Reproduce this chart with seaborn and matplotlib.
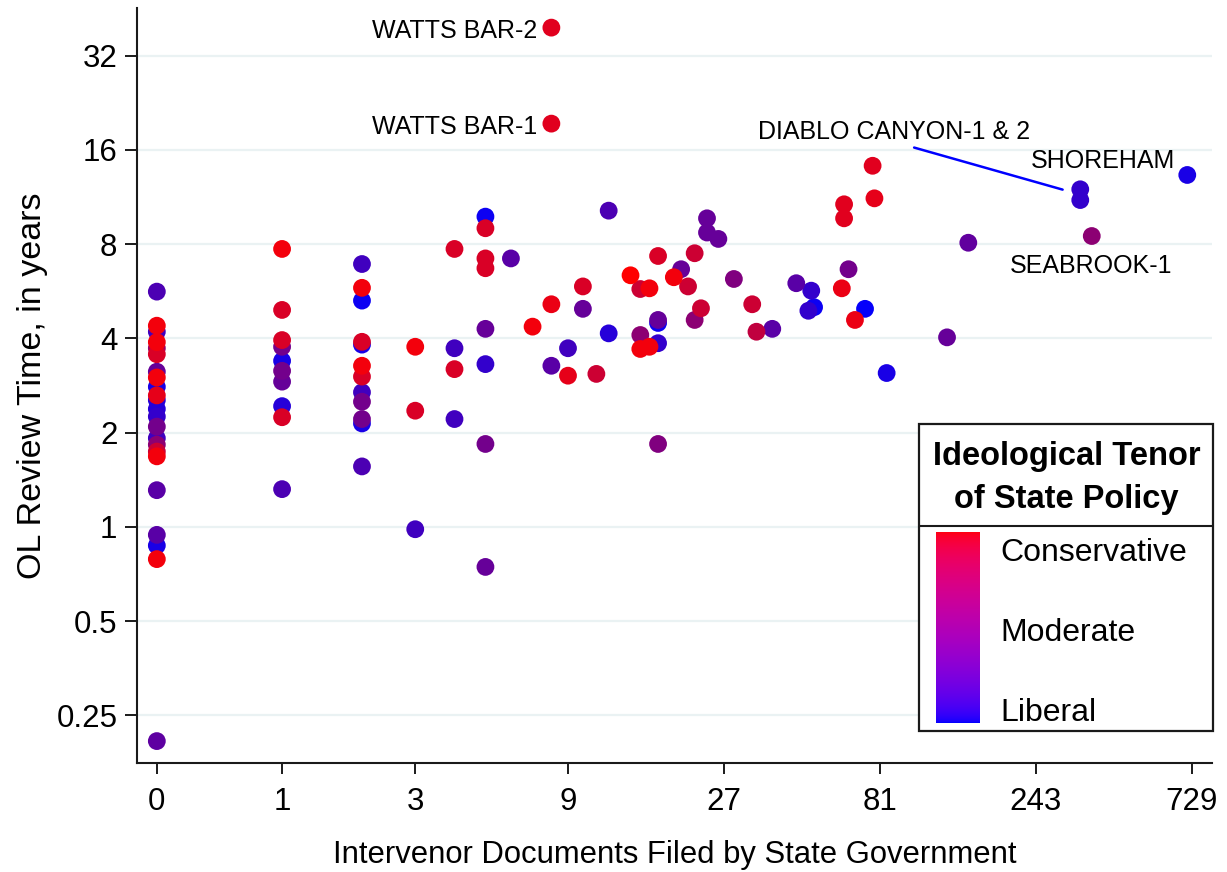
import numpy as np
import pandas as pd
import matplotlib
matplotlib.use("Agg")
import matplotlib.pyplot as plt
import seaborn as sns
from matplotlib.colors import LinearSegmentedColormap
from matplotlib.ticker import NullLocator
from matplotlib.patches import Rectangle
from matplotlib.lines import Line2D

# ---------------- data ----------------
docs_filed = (
    [0] * 23 + [1] * 10 + [2] * 12 + [3] * 3 + [4] * 4 + [5] * 8 +
    [6, 7, 8, 8, 8, 8, 9, 9, 10, 10, 11, 12, 12, 14, 15, 15, 15, 16, 16,
     17, 17, 17, 17, 17, 19, 20, 21, 22, 22, 23, 24, 24, 26, 29, 33, 34, 38,
     45, 49, 50, 51, 62, 63, 63, 65, 68, 73, 77, 78, 85, 130, 151,
     332, 332, 360, 705]
)
review_years = [
    # 0 documents
    5.64, 4.39, 4.20, 3.89, 3.72, 3.56, 3.13, 3.00, 2.80, 2.63, 2.54, 2.38,
    2.25, 2.09, 1.92, 1.83, 1.74, 1.68, 1.31, 0.943, 0.872, 0.789, 0.207,
    # 1
    7.72, 4.93, 3.95, 3.76, 3.39, 3.15, 2.91, 2.43, 2.24, 1.32,
    # 2
    6.91, 5.80, 5.28, 3.90, 3.82, 3.27, 3.02, 2.69, 2.51, 2.21, 2.14, 1.56,
    # 3
    3.76, 2.35, 0.983,
    # 4
    7.72, 3.72, 3.19, 2.21,
    # 5
    9.79, 8.99, 7.20, 6.70, 4.29, 3.31, 1.84, 0.745,
    # 6 .. 705
    7.20, 4.36, 5.14, 3.27, 39.3, 19.4, 3.72, 3.04, 5.86, 4.97, 3.08,
    10.23, 4.15, 6.36, 5.75, 4.10, 3.70, 5.78, 3.76,
    7.33, 4.58, 4.48, 3.86, 1.84, 6.27, 6.65, 5.86, 7.48, 4.58, 4.99,
    9.67, 8.71, 8.31, 6.19, 5.14, 4.20, 4.29,
    6.00, 4.90, 5.68, 5.03, 5.78, 10.72, 9.67, 6.65, 4.58, 4.97, 14.23,
    11.20, 3.10, 4.03, 8.08,
    11.97, 11.06, 8.49, 13.30,
]
# 0 = liberal (blue) ... 1 = conservative (red)
ideology = [
    0.30, 0.95, 0.25, 0.95, 0.60, 0.85, 0.40, 0.95, 0.10, 0.90, 0.15, 0.15,
    0.20, 0.45, 0.25, 0.55, 0.80, 0.95, 0.35, 0.35, 0.10, 0.95, 0.37,
    0.95, 0.85, 0.85, 0.45, 0.10, 0.45, 0.40, 0.15, 0.85, 0.30,
    0.25, 0.95, 0.05, 0.85, 0.10, 0.95, 0.85, 0.25, 0.45, 0.45, 0.10, 0.30,
    0.95, 0.85, 0.25,
    0.85, 0.25, 0.85, 0.25,
    0.05, 0.85, 0.85, 0.85, 0.40, 0.20, 0.45, 0.40,
    0.35, 0.95, 0.92, 0.35, 0.88, 0.88, 0.25, 0.90, 0.85, 0.40, 0.80,
    0.30, 0.15, 1.00, 0.80, 0.55, 0.95, 0.95, 0.95,
    0.85, 0.40, 0.05, 0.20, 0.50, 0.95, 0.40, 0.80, 0.80, 0.55, 0.80,
    0.40, 0.40, 0.40, 0.50, 0.80, 0.75, 0.35,
    0.35, 0.20, 0.20, 0.05, 0.92, 0.88, 0.88, 0.45, 0.92, 0.02, 0.88,
    0.90, 0.10, 0.40, 0.38,
    0.20, 0.20, 0.55, 0.10,
]

x_ticks = [0, 1, 3, 9, 27, 81, 243, 729]
x_tick_labels = ["0", "1", "3", "9", "27", "81", "243", "729"]
y_ticks = [0.25, 0.5, 1, 2, 4, 8, 16, 32]
y_tick_labels = ["0.25", "0.5", "1", "2", "4", "8", "16", "32"]

legend_title = ["Ideological Tenor", "of State Policy"]
legend_labels = ["Conservative", "Moderate", "Liberal"]

# annotations: name, x, y
watts2 = ("WATTS BAR-2", 8, 39.3)
watts1 = ("WATTS BAR-1", 8, 19.4)
diablo = ("DIABLO CANYON-1 & 2", 332, 11.51)
shoreham = ("SHOREHAM", 705, 13.30)
seabrook = ("SEABROOK-1", 360, 8.49)

# ---------------- figure ----------------
sns.set_style("white")
plt.rcParams["font.family"] = ["Liberation Sans", "DejaVu Sans"]
plt.rcParams["text.color"] = "black"
plt.rcParams["axes.labelcolor"] = "black"
plt.rcParams["xtick.color"] = "black"
plt.rcParams["ytick.color"] = "black"

W, H = 1227, 872
fig = plt.figure(figsize=(W / 100, H / 100), dpi=100)


def fx(px):
    return px / W


def fy(py):
    return 1 - py / H


ax = fig.add_axes([fx(137), fy(763), fx(1212) - fx(137), fy(8) - fy(763)])

df = pd.DataFrame({"docs": docs_filed, "years": review_years, "tenor": ideology})
df = df.sort_values("tenor", kind="stable")

cmap = LinearSegmentedColormap.from_list("tenor", ["#0000ff", "#ff0000"])
sns.scatterplot(data=df, x="docs", y="years", hue="tenor", palette=cmap,
                hue_norm=(0, 1), s=164, linewidth=0, legend=False, ax=ax,
                zorder=3)

ax.set_xscale("asinh", linear_width=1.0)
ax.set_yscale("log", base=2)
ax.set_xlim(-0.14, 839)
ax.set_ylim(0.1762, 45.4)
ax.set_xticks(x_ticks)
ax.set_xticklabels(x_tick_labels)
ax.set_yticks(y_ticks)
ax.set_yticklabels(y_tick_labels)
ax.xaxis.set_minor_locator(NullLocator())
ax.yaxis.set_minor_locator(NullLocator())

ax.grid(axis="y", color="#eaf2f3", lw=1.6)
ax.grid(axis="x", visible=False)
ax.set_axisbelow(True)

for s in ["top", "right"]:
    ax.spines[s].set_visible(False)
for s in ["left", "bottom"]:
    ax.spines[s].set_color("#1a1a1a")
    ax.spines[s].set_linewidth(1.5)

ax.tick_params(axis="y", direction="out", length=8.6, width=1.4,
               color="#1a1a1a", labelcolor="black", labelsize=22.5, pad=5.5,
               left=True)
ax.tick_params(axis="x", direction="out", length=7.6, width=1.4,
               color="#1a1a1a", labelcolor="black", labelsize=22.5, pad=9.5,
               bottom=True)

ax.set_xlabel("Intervenor Documents Filed by State Government",
              fontsize=22.3, va="baseline", color="black")
ax.xaxis.set_label_coords(0.5005, -(863.3 - 763) / 755)
ax.set_ylabel("OL Review Time, in years", fontsize=24.5, va="baseline",
              color="black")
ax.yaxis.set_label_coords((41.3 - 137) / 1075, 0.4995)

# ---------------- annotations ----------------
af = 18
for name, xx, yy in (watts2, watts1):
    ax.annotate(name, (xx, yy), xytext=(-10.1, -7.2), textcoords="offset points",
                ha="right", va="baseline", fontsize=af, color="black",
                annotation_clip=False)

ax.annotate(shoreham[0], shoreham[1:], xytext=(-8.9, 4.8),
            textcoords="offset points", ha="right", va="baseline", fontsize=af,
            color="black")
ax.annotate(seabrook[0], seabrook[1:], xytext=(-58.8, -26.9),
            textcoords="offset points", ha="left", va="baseline", fontsize=af,
            color="black")
ax.annotate(diablo[0], diablo[1:], xytext=(-231.8, 39.85),
            textcoords="offset points", ha="left", va="baseline", fontsize=af,
            color="black",
            arrowprops=dict(arrowstyle="-", color="#0000ff", lw=1.8,
                            shrinkA=0, shrinkB=13.2, relpos=(0.53, 0.0)))

# ---------------- legend box ----------------
fig.add_artist(Rectangle((fx(919.3), fy(730.7)), fx(1213.3) - fx(919.3),
                         fy(424) - fy(730.7), transform=fig.transFigure,
                         fc="white", ec="#1a1a1a", lw=1.6, zorder=5))
fig.add_artist(Line2D([fx(919.3), fx(1213.3)], [fy(526), fy(526)],
                      transform=fig.transFigure, color="#1a1a1a", lw=1.5,
                      zorder=6))
fig.text(fx(1066.7), fy(465), legend_title[0], ha="center", va="baseline",
         fontsize=23.5, fontweight="bold", color="black", zorder=7)
fig.text(fx(1066.7), fy(508.3), legend_title[1], ha="center", va="baseline",
         fontsize=23.5, fontweight="bold", color="black", zorder=7)
for lab, base in zip(legend_labels, [560.7, 640.7, 720.7]):
    fig.text(fx(1000.7), fy(base), lab, ha="left", va="baseline",
             fontsize=23, color="black", zorder=7)

cax = fig.add_axes([fx(935.7), fy(723.3), fx(979) - fx(935.7),
                    fy(531.7) - fy(723.3)], zorder=10)
tt = np.linspace(1, 0, 256)
grad = np.stack([np.sqrt(tt), np.zeros_like(tt), np.sqrt(1 - tt)], axis=1)[:, None, :]
cax.imshow(grad, aspect="auto", extent=[0, 1, 0, 1], interpolation="bilinear")
cax.axis("off")

fig.savefig("out.png", dpi=100)
